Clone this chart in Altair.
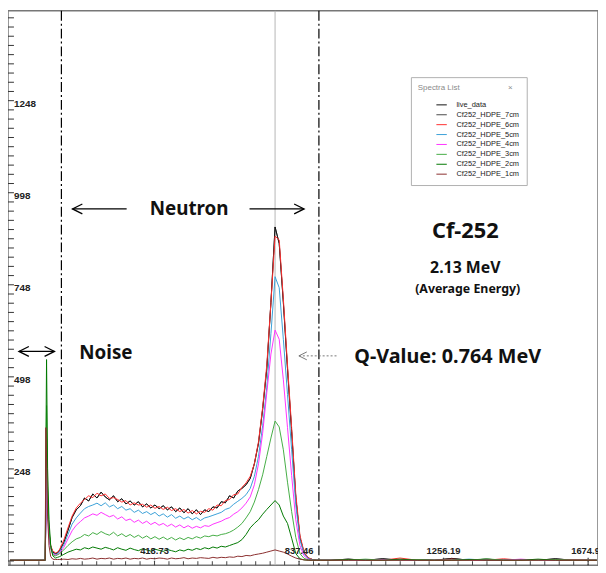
import altair as alt
import pandas as pd

# ---------------- data ----------------
SERIES = ["live_data", "Cf252_HDPE_7cm", "Cf252_HDPE_6cm", "Cf252_HDPE_5cm",
          "Cf252_HDPE_4cm", "Cf252_HDPE_3cm", "Cf252_HDPE_2cm", "Cf252_HDPE_1cm"]
COLORS = ["#111111", "#4a4a4a", "#ff3030", "#3aa0d8", "#ff33ff", "#45ad45", "#007800", "#8b2f2f"]
WIDTHS = [1, 1, 1, 1, 1, 1, 2.2, 1]
DRAW_ORDER = ["Cf252_HDPE_7cm", "live_data", "Cf252_HDPE_6cm", "Cf252_HDPE_5cm",
              "Cf252_HDPE_4cm", "Cf252_HDPE_3cm", "Cf252_HDPE_2cm", "Cf252_HDPE_1cm"]

CHANNELS = [0, 50, 100, 102,
            104, 106, 109, 113, 118, 124, 132, 138,
            144, 156, 168, 180, 192, 204, 216, 228, 240, 252,
            264, 276, 288, 300, 312, 324, 336, 348, 360, 372,
            384, 396, 408, 420, 432, 444, 456, 468, 480, 492,
            504, 516, 528, 540, 552, 564, 576, 588, 600, 612,
            624, 636, 648, 660, 672, 684, 696, 708, 720, 732,
            744, 756, 768, 780, 792, 804, 816, 828, 840, 852,
            864, 876, 888, 900,
            930, 980, 1030, 1080, 1130, 1180, 1230, 1280, 1330, 1380,
            1430, 1480, 1530, 1580, 1630, 1700]

HDPE_7CM = [0, 0, 0, 0,
            120, 330, 160, 75, 38, 22, 18, 20,
            27, 48, 81, 116, 137, 148, 169, 161, 180, 169,
            185, 172, 164, 175, 159, 167, 153, 161, 150, 159,
            145, 153, 142, 150, 140, 148, 137, 145, 132, 142,
            129, 140, 126, 137, 124, 137, 132, 145, 142, 159,
            156, 175, 169, 188, 195, 205, 222, 262, 318, 410,
            520, 700, 905, 860, 700, 520, 350, 170, 62, 20,
            6, 2, 0, 0,
            0, 3, 0, 4, 0, 2, 0, 5, 0, 3, 0, 2, 0, 4, 0, 0]
LIVE_DATA = HDPE_7CM
HDPE_6CM = [0, 0, 0, 0,
            150, 360, 180, 80, 40, 25, 20, 22,
            30, 55, 88, 120, 142, 155, 165, 175, 170, 182,
            175, 180, 168, 170, 165, 158, 162, 150, 156, 150,
            152, 144, 150, 141, 146, 138, 144, 135, 140, 132,
            138, 128, 135, 126, 133, 130, 140, 136, 150, 148,
            162, 165, 178, 180, 198, 210, 228, 262, 322, 415,
            530, 700, 880, 870, 710, 530, 360, 180, 68, 22,
            7, 2, 0, 0,
            0, 2, 0, 0, 6, 0, 0, 3, 0, 0, 4, 0, 0, 0, 2, 0]
HDPE_5CM = [0, 0, 0, 0,
            110, 300, 150, 70, 35, 20, 15, 18,
            24, 42, 70, 98, 115, 128, 140, 146, 150, 155,
            148, 156, 145, 150, 140, 146, 136, 140, 130, 136,
            127, 132, 124, 130, 120, 126, 117, 124, 114, 120,
            112, 118, 110, 116, 108, 115, 118, 122, 126, 130,
            138, 142, 152, 160, 168, 178, 195, 228, 282, 365,
            470, 615, 770, 740, 600, 450, 300, 150, 55, 18,
            5, 1, 0, 0,
            0, 0, 2, 0, 0, 0, 0, 0, 3, 0, 0, 0, 0, 0, 0, 0]
HDPE_4CM = [0, 0, 0, 0,
            100, 280, 140, 65, 30, 18, 14, 15,
            20, 35, 58, 80, 95, 105, 115, 120, 126, 122,
            130, 124, 118, 122, 112, 118, 108, 112, 103, 109,
            100, 106, 97, 103, 95, 100, 92, 98, 90, 96,
            88, 94, 87, 92, 88, 94, 92, 98, 102, 106,
            112, 116, 125, 132, 142, 155, 172, 205, 262, 345,
            455, 560, 625, 600, 490, 360, 230, 110, 40, 12,
            3, 0, 0, 0,
            0, 0, 0, 2, 0, 0, 0, 0, 0, 0, 0, 3, 0, 0, 0, 0]
HDPE_3CM = [0, 0, 0, 0,
            200, 420, 200, 90, 35, 15, 12, 15,
            18, 28, 40, 50, 58, 62, 70, 66, 75, 70,
            78, 72, 68, 76, 66, 72, 64, 70, 62, 68,
            60, 66, 58, 64, 57, 63, 56, 62, 55, 61,
            56, 62, 58, 64, 60, 66, 64, 68, 66, 70,
            72, 76, 82, 90, 100, 115, 132, 158, 192, 232,
            282, 332, 378, 362, 300, 212, 132, 62, 18, 5,
            1, 0, 0, 0,
            0, 0, 3, 0, 0, 2, 0, 0, 0, 4, 0, 0, 0, 2, 0, 0]
HDPE_2CM = [0, 0, 0, 0,
            300, 545, 250, 110, 40, 12, 6, 8,
            10, 16, 22, 26, 30, 28, 34, 31, 36, 33,
            30, 35, 32, 28, 34, 30, 27, 33, 29, 26,
            31, 28, 25, 30, 27, 24, 29, 26, 23, 28,
            25, 30, 27, 32, 29, 34, 31, 36, 33, 38,
            36, 40, 44, 48, 56, 70, 88, 100, 110, 125,
            138, 150, 162, 150, 120, 100, 60, 18, 4, 1,
            0, 0, 0, 0,
            0, 2, 0, 0, 3, 0, 0, 0, 2, 0, 0, 0, 3, 0, 0, 0]
HDPE_1CM = [0, 0, 0, 0,
            360, 280, 120, 40, 10, 3, 2, 2,
            2, 3, 2, 4, 3, 5, 3, 4, 6, 3,
            5, 4, 6, 3, 5, 4, 6, 3, 5, 4,
            6, 3, 5, 4, 6, 5, 3, 6, 4, 5,
            7, 4, 6, 5, 7, 6, 5, 8, 6, 8,
            7, 9, 8, 11, 10, 13, 12, 15, 17, 19,
            22, 25, 28, 25, 22, 17, 11, 6, 3, 1,
            0, 0, 0, 0,
            0, 0, 0, 0, 0, 0, 0, 0, 0, 0, 0, 0, 0, 0, 0, 0]

VALUES = {"live_data": LIVE_DATA, "Cf252_HDPE_7cm": HDPE_7CM, "Cf252_HDPE_6cm": HDPE_6CM,
          "Cf252_HDPE_5cm": HDPE_5CM, "Cf252_HDPE_4cm": HDPE_4CM, "Cf252_HDPE_3cm": HDPE_3CM,
          "Cf252_HDPE_2cm": HDPE_2CM, "Cf252_HDPE_1cm": HDPE_1CM}

Y_TICK_LABELS = [248, 498, 748, 998, 1248]
X_TICK_LABELS = [418.73, 837.46, 1256.19, 1674.92]

REGION_LINES = [149, 895]      # dash-dot boundaries (channel)
CURSOR = [768]                 # grey cursor line

# annotation texts (channel, counts)
TEXTS = [
    {"text": "Neutron", "x": 519, "y": 954, "size": 19},
    {"text": "Noise", "x": 278, "y": 563, "size": 19},
    {"text": "Cf-252", "x": 1319, "y": 893, "size": 22},
    {"text": "2.13 MeV", "x": 1319, "y": 793, "size": 16},
    {"text": "(Average Energy)", "x": 1326, "y": 737, "size": 12.5},
    {"text": "Q-Value: 0.764 MeV", "x": 1268, "y": 551, "size": 20},
]
ARROWS = [  # shafts
    {"x": 26, "x2": 129, "y": 567},
    {"x": 181, "x2": 338, "y": 954},
    {"x": 694, "x2": 852, "y": 954},
]
HEAD_LEFT = [{"x": 26, "y": 567}, {"x": 181, "y": 954}]
HEAD_RIGHT = [{"x": 129, "y": 567}, {"x": 852, "y": 954}]
Q_ARROW = [{"x": 837, "x2": 950, "y": 555}]

# ---------------- build ----------------
XS = alt.Scale(domain=[-5.7, 1703.5], nice=False, zero=False)
YS = alt.Scale(domain=[-13.4, 1492], nice=False, zero=False)

rows = []
for name in DRAW_ORDER:
    vals = VALUES[name]
    assert len(vals) == len(CHANNELS), name
    for c, v in zip(CHANNELS, vals):
        rows.append({"series": name, "ch": c, "counts": v})
spec = pd.DataFrame(rows)

lines = alt.Chart(spec).mark_line(clip=True, strokeJoin="round").encode(
    x=alt.X("ch:Q", scale=XS, axis=None),
    y=alt.Y("counts:Q", scale=YS, axis=None),
    color=alt.Color("series:N", scale=alt.Scale(domain=SERIES, range=COLORS),
                    legend=alt.Legend(
                        title="Spectra List" + "\u00a0" * 22 + "\u00d7",
                        orient="none", legendX=407, legendY=67,
                        symbolType="stroke", symbolSize=110, symbolStrokeWidth=1.5,
                        labelFont="Liberation Sans", labelFontSize=7.5, labelColor="#222",
                        titleFont="Liberation Sans", titleFontSize=8, titleFontWeight="normal",
                        titleColor="#8a8a8a", titlePadding=7,
                        fillColor="white", strokeColor="#b0b0b0",
                        padding=7, rowPadding=0, symbolOffset=18, labelOffset=9)),
    strokeWidth=alt.StrokeWidth("series:N", scale=alt.Scale(domain=SERIES, range=WIDTHS), legend=None),
)

region = alt.Chart(pd.DataFrame({"ch": REGION_LINES})).mark_rule(
    color="black", strokeWidth=1.2, strokeDash=[10, 3, 2, 3]).encode(
    x=alt.X("ch:Q", scale=XS, axis=None))
cursor = alt.Chart(pd.DataFrame({"ch": CURSOR})).mark_rule(
    color="#b5b5b5", strokeWidth=1).encode(x=alt.X("ch:Q", scale=XS, axis=None))

shafts = alt.Chart(pd.DataFrame(ARROWS)).mark_rule(color="black", strokeWidth=1.3).encode(
    x=alt.X("x:Q", scale=XS, axis=None), x2="x2:Q", y=alt.Y("y:Q", scale=YS, axis=None))
head_l = alt.Chart(pd.DataFrame(HEAD_LEFT)).mark_point(
    shape="M2,-1L0,0L2,1", size=100, filled=False, stroke="black", strokeWidth=1.3, opacity=1).encode(
    x=alt.X("x:Q", scale=XS, axis=None), y=alt.Y("y:Q", scale=YS, axis=None))
head_r = alt.Chart(pd.DataFrame(HEAD_RIGHT)).mark_point(
    shape="M-2,-1L0,0L-2,1", size=100, filled=False, stroke="black", strokeWidth=1.3, opacity=1).encode(
    x=alt.X("x:Q", scale=XS, axis=None), y=alt.Y("y:Q", scale=YS, axis=None))
q_shaft = alt.Chart(pd.DataFrame(Q_ARROW)).mark_rule(
    color="#777", strokeWidth=1, strokeDash=[2, 2]).encode(
    x=alt.X("x:Q", scale=XS, axis=None), x2="x2:Q", y=alt.Y("y:Q", scale=YS, axis=None))
q_head = alt.Chart(pd.DataFrame(Q_ARROW)).mark_point(
    shape="M2,-1L0,0L2,1", size=64, filled=False, stroke="#777", strokeWidth=1, opacity=1).encode(
    x=alt.X("x:Q", scale=XS, axis=None), y=alt.Y("y:Q", scale=YS, axis=None))

texts = alt.Chart(pd.DataFrame(TEXTS)).mark_text(
    font="Noto Sans", fontWeight="bold", color="#111", align="center", baseline="middle").encode(
    x=alt.X("x:Q", scale=XS, axis=None), y=alt.Y("y:Q", scale=YS, axis=None),
    text="text:N", size=alt.Size("size:Q", scale=None))

# y axis ticks drawn inside the frame
y_minor = pd.DataFrame({"v": [-2 + 25 * k for k in range(0, 60)]})
y_ticks = alt.Chart(y_minor).mark_rule(color="#333", strokeWidth=1).encode(
    y=alt.Y("v:Q", scale=YS, axis=None), x=alt.value(0), x2=alt.value(6))
y_labels = alt.Chart(pd.DataFrame({"v": Y_TICK_LABELS})).mark_text(
    font="Liberation Sans", fontWeight="bold", fontSize=10, color="#222",
    align="left", baseline="middle", dx=0, dy=3).encode(
    y=alt.Y("v:Q", scale=YS, axis=None), x=alt.value(6), text=alt.Text("v:Q", format="d"))

# x axis ticks drawn inside the frame
x_minor = pd.DataFrame({"v": [round(41.873 * k, 3) for k in range(0, 41)]})
x_ticks = alt.Chart(x_minor).mark_rule(color="#444", strokeWidth=1).encode(
    x=alt.X("v:Q", scale=XS, axis=None), y=alt.value(560), y2=alt.value(556))
x_major = alt.Chart(pd.DataFrame({"v": X_TICK_LABELS})).mark_rule(
    color="#444", strokeWidth=1.2, strokeDash=[1.5, 1.5]).encode(
    x=alt.X("v:Q", scale=XS, axis=None), y=alt.value(560), y2=alt.value(552))
x_labels = alt.Chart(pd.DataFrame({"v": X_TICK_LABELS})).mark_text(
    font="Liberation Sans", fontWeight="bold", fontSize=9.5, color="#222",
    align="center", baseline="bottom").encode(
    x=alt.X("v:Q", scale=XS, axis=None), y=alt.value(551), text=alt.Text("v:Q", format=".2f"))

chart = alt.layer(
    region, cursor, lines, shafts, head_l, head_r, q_shaft, q_head, texts,
    y_ticks, y_labels, x_ticks, x_major, x_labels
).properties(
    width=596, height=560, padding=0,
    autosize=alt.AutoSizeParams(type="none"),
    background="white",
).configure_view(stroke="#777", strokeWidth=1.5)

chart.save("out.html", embed_options={"renderer": "svg", "actions": False})
